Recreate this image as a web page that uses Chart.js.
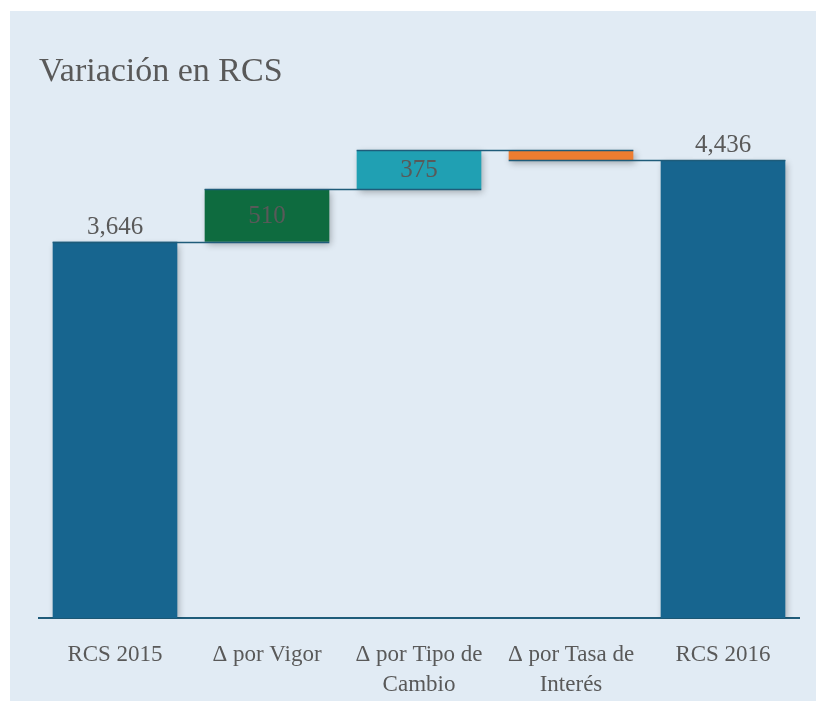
<!DOCTYPE html>
<html>
<head>
<meta charset="utf-8">
<script src="https://cdn.jsdelivr.net/npm/chart.js@4"></script>
<style>
html,body{margin:0;padding:0;background:#ffffff;}
#wrap{position:relative;width:816px;height:702px;}
canvas{display:block;}
</style>
</head>
<body>
<div id="wrap"><canvas id="c" width="816" height="702"></canvas></div>
<script>
const categories = [["RCS 2015"], ["Δ por Vigor"], ["Δ por Tipo de", "Cambio"], ["Δ por Tasa de", "Interés"], ["RCS 2016"]];
const changes = [3646, 510, 375, -95, null];
const totals = [true, false, false, false, true];
const finalTotal = 4436;
const barColors = ["#17658F", "#0E6B3F", "#20A0B3", "#EE7D30", "#17658F"];
const labelTexts = ["3,646", "510", "375", "", "4,436"];

// build floating ranges
const ranges = [];
let running = 0;
for (let i = 0; i < changes.length; i++) {
  if (totals[i]) {
    const v = (i === 0) ? changes[i] : finalTotal;
    ranges.push([0, v]);
    running = v;
  } else {
    ranges.push([running, running + changes[i]]);
    running += changes[i];
  }
}

const panelPlugin = {
  id: 'panel',
  beforeDraw(chart) {
    const ctx = chart.ctx;
    ctx.save();
    ctx.fillStyle = '#FFFFFF';
    ctx.fillRect(0, 0, chart.width, chart.height);
    ctx.fillStyle = '#E1EBF4';
    ctx.fillRect(10, 11, chart.width - 10, 690);
    ctx.restore();
  }
};

const shadowPlugin = {
  id: 'shadow',
  beforeDatasetsDraw(chart) {
    const ctx = chart.ctx;
    ctx.save();
    ctx.shadowColor = 'rgba(0,0,0,0.30)';
    ctx.shadowBlur = 7;
    ctx.shadowOffsetX = 2;
    ctx.shadowOffsetY = 3;
  },
  afterDatasetsDraw(chart) {
    chart.ctx.restore();
  }
};

const connectorPlugin = {
  id: 'connectors',
  afterDatasetsDraw(chart) {
    const ctx = chart.ctx;
    const meta = chart.getDatasetMeta(0);
    const y = chart.scales.y;
    ctx.save();
    ctx.strokeStyle = '#1F5C7A';
    ctx.lineWidth = 1.6;
    for (let i = 0; i < ranges.length - 1; i++) {
      const level = ranges[i][1];
      const a = meta.data[i], b = meta.data[i + 1];
      const x1 = a.x - a.width / 2, x2 = b.x + b.width / 2;
      const py = Math.round(y.getPixelForValue(level)) + 0.5;
      ctx.beginPath();
      ctx.moveTo(x1, py);
      ctx.lineTo(x2, py);
      ctx.stroke();
    }
    // labels
    ctx.font = '25px "Liberation Serif", serif';
    ctx.textAlign = 'center';
    for (let i = 0; i < ranges.length; i++) {
      const t = labelTexts[i];
      if (!t) continue;
      const el = meta.data[i];
      if (totals[i]) {
        const top = y.getPixelForValue(ranges[i][1]);
        const w = ctx.measureText(t).width;
        ctx.fillStyle = '#E1EBF4';
        ctx.fillRect(el.x - w / 2 - 2, top - 28, w + 4, 26);
        ctx.fillStyle = '#595959';
        ctx.textBaseline = 'bottom';
        ctx.fillText(t, el.x, top - 2);
      } else {
        const mid = y.getPixelForValue((ranges[i][0] + ranges[i][1]) / 2);
        ctx.fillStyle = '#595959';
        ctx.textBaseline = 'middle';
        ctx.fillText(t, el.x, mid + 1);
      }
    }
    ctx.restore();
  }
};

Chart.defaults.font.family = '"Liberation Serif", serif';
new Chart(document.getElementById('c'), {
  type: 'bar',
  data: {
    labels: categories,
    datasets: [{
      data: ranges,
      backgroundColor: barColors,
      borderWidth: 0,
      categoryPercentage: 1,
      barPercentage: 0.82
    }]
  },
  options: {
    responsive: false,
    animation: false,
    devicePixelRatio: 1,
    layout: { padding: { left: 39, right: 17, top: 0, bottom: -20 } },
    plugins: {
      legend: { display: false },
      tooltip: { enabled: false },
      title: {
        display: true,
        text: 'Variación en RCS',
        align: 'start',
        color: '#595959',
        font: { size: 34, family: '"Liberation Serif", serif', weight: 'normal', lineHeight: 1.2 },
        padding: { top: 52, bottom: 9 }
      }
    },
    scales: {
      x: {
        grid: { display: false, drawTicks: false },
        border: { display: true, color: '#1F5C7A', width: 2 },
        ticks: { color: '#595959', font: { size: 23, lineHeight: 1.3 }, padding: 22, maxRotation: 0, autoSkip: false }
      },
      y: {
        display: false,
        min: 0,
        max: 5000
      }
    }
  },
  plugins: [panelPlugin, shadowPlugin, connectorPlugin]
});
</script>
</body>
</html>
